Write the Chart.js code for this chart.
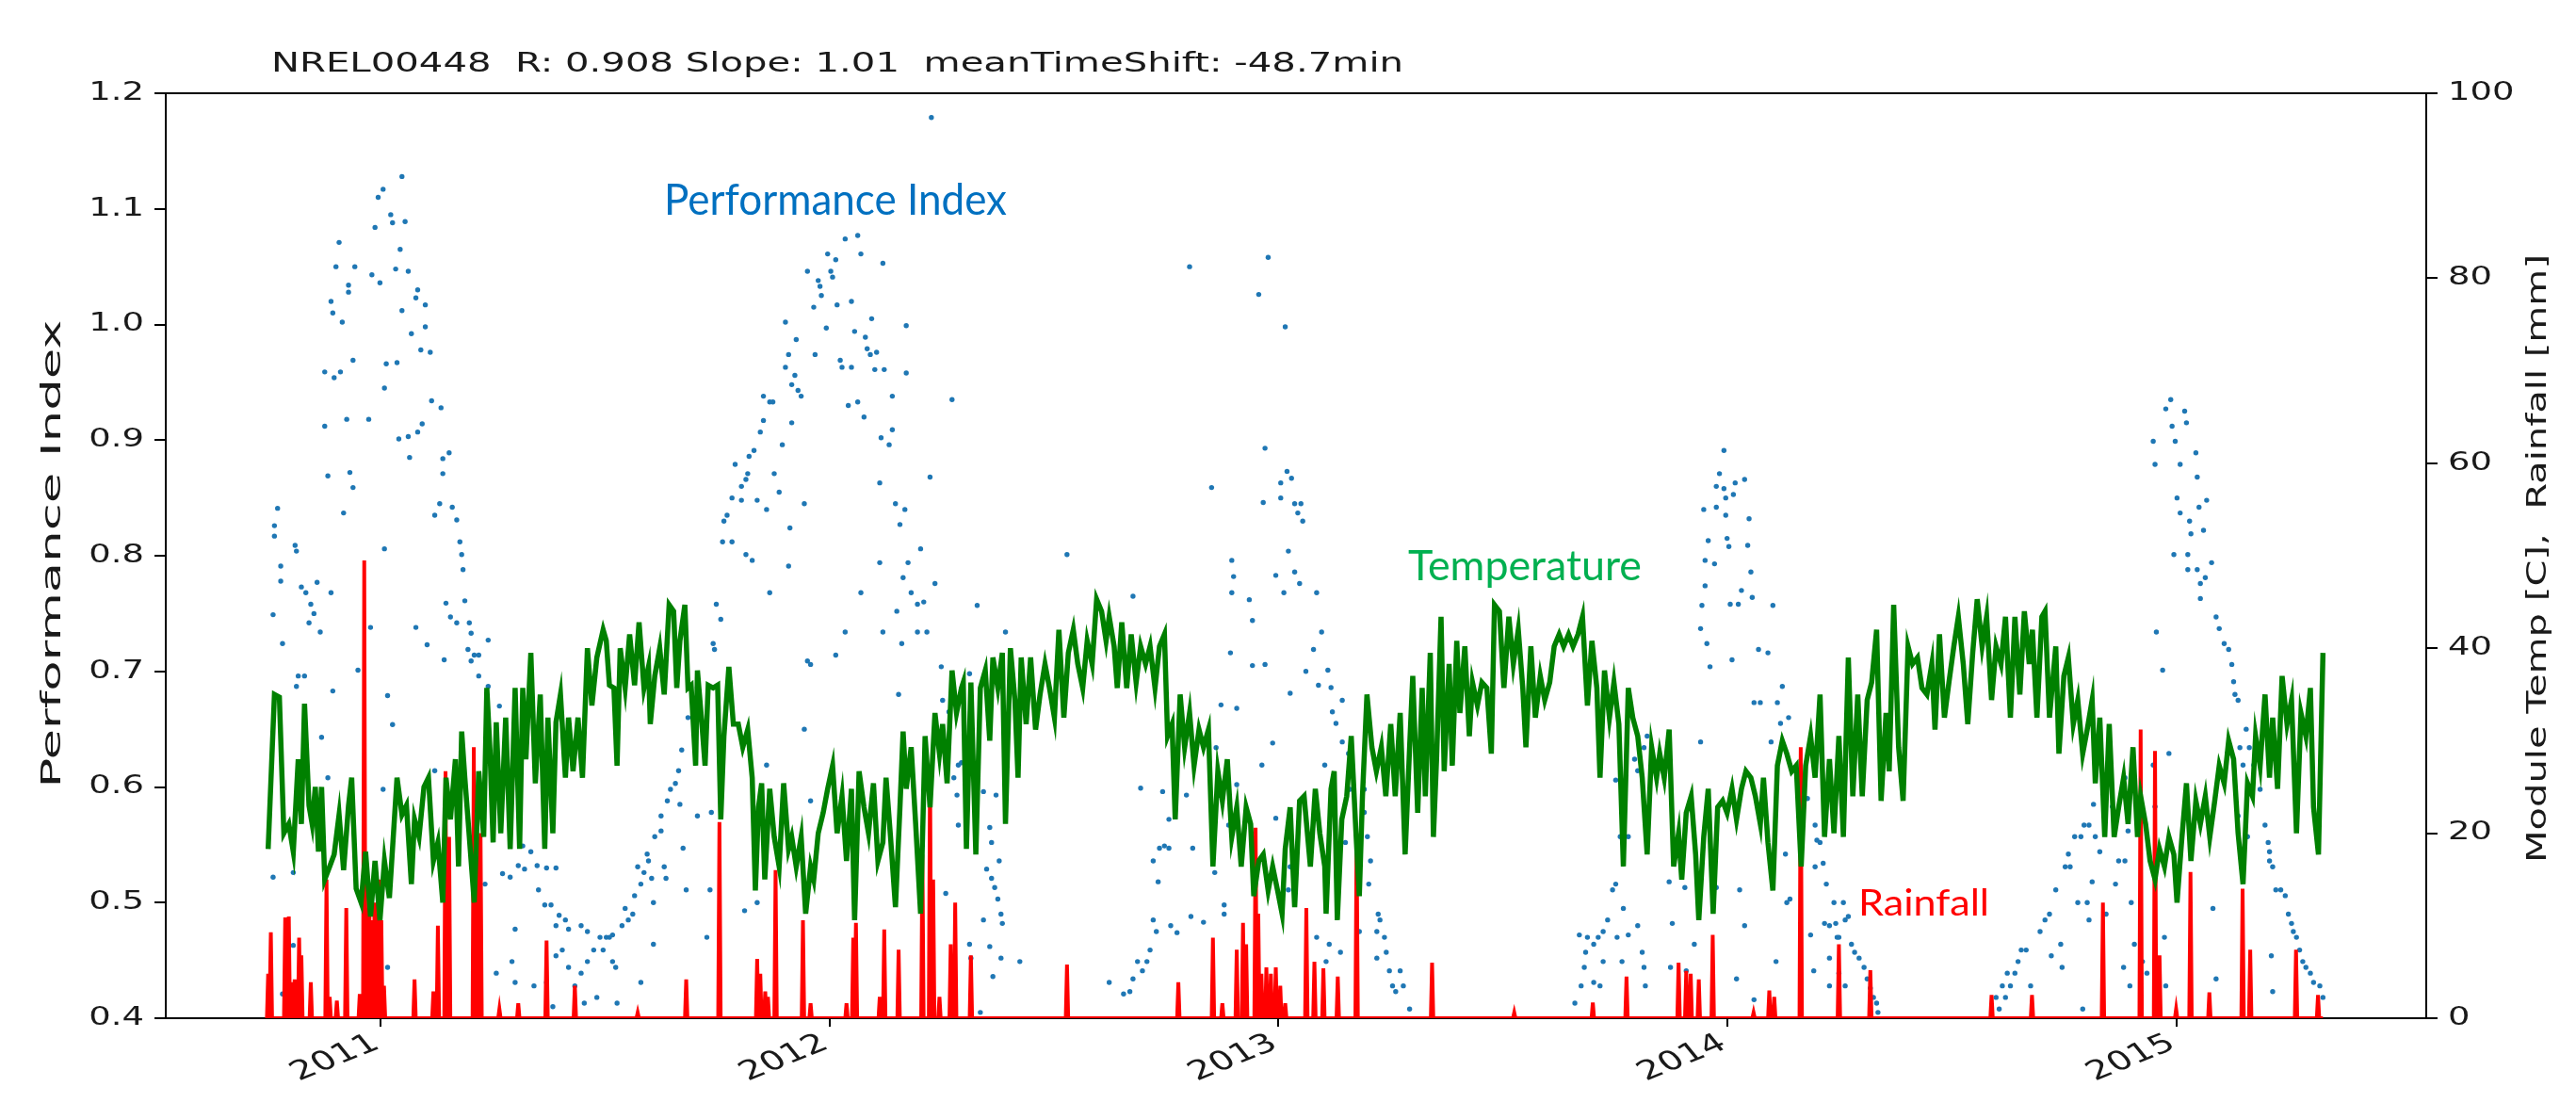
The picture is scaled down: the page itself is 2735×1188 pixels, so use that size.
<!DOCTYPE html>
<html>
<head>
<meta charset="utf-8">
<script src="https://cdn.jsdelivr.net/npm/chart.js@4.4.1/dist/chart.umd.min.js"></script>
<style>
  html, body { margin: 0; padding: 0; background: #fff; }
  #wrap { width: 2735px; height: 1188px; }
</style>
</head>
<body>
<div id="wrap"><canvas id="chart" width="2735" height="1188"></canvas></div>
<script>
// x in decimal years
const yearTicks = [2011, 2012, 2013, 2014, 2015];
const yearTickLabels = ['2011', '2012', '2013', '2014', '2015'];
const piTicks = [0.4, 0.5, 0.6, 0.7, 0.8, 0.9, 1.0, 1.1, 1.2];
const piTickLabels = ['0.4', '0.5', '0.6', '0.7', '0.8', '0.9', '1.0', '1.1', '1.2'];
const tempTicks = [0, 20, 40, 60, 80, 100];
const tempTickLabels = ['0', '20', '40', '60', '80', '100'];

// performance index scatter [year, PI]
const piPoints = [
[2010.764,0.826],[2010.764,0.817],[2010.771,0.841],[2010.778,0.791],[2010.778,0.778],[2010.761,0.749],[2010.782,0.724],[2010.810,0.809],[2010.813,0.804],[2010.824,0.773],
[2010.834,0.768],[2010.845,0.758],[2010.859,0.777],[2010.841,0.742],[2010.852,0.750],[2010.866,0.734],[2010.817,0.696],[2010.831,0.696],[2010.813,0.687],[2010.761,0.522],
[2010.806,0.526],[2010.890,0.768],[2010.894,0.683],[2010.869,0.643],[2010.883,0.608],[2010.908,1.071],[2010.901,1.050],[2010.890,1.020],[2010.894,1.010],[2010.915,1.002],
[2010.876,0.959],[2010.897,0.954],[2010.911,0.959],[2010.939,0.969],[2010.929,1.034],[2010.929,1.028],[2010.943,1.050],[2010.981,1.043],[2010.999,1.036],[2010.988,1.084],
[2011.006,1.117],[2010.995,1.110],[2011.023,1.095],[2011.027,1.088],[2011.048,1.128],[2011.055,1.089],[2011.044,1.065],[2011.048,1.012],[2011.034,1.048],[2011.062,1.046],
[2011.083,1.030],[2011.079,1.023],[2011.100,1.017],[2011.069,0.992],[2011.090,0.978],[2011.100,0.998],[2011.111,0.976],[2011.013,0.966],[2011.037,0.967],[2011.009,0.945],
[2010.876,0.912],[2010.925,0.918],[2010.974,0.918],[2010.883,0.869],[2010.932,0.872],[2010.939,0.859],[2010.918,0.837],[2011.041,0.901],[2011.062,0.903],[2011.083,0.907],
[2011.093,0.914],[2011.065,0.885],[2011.114,0.934],[2011.135,0.928],[2011.153,0.889],[2011.139,0.884],[2011.139,0.871],[2011.121,0.835],[2011.132,0.845],[2011.160,0.842],
[2011.170,0.831],[2011.177,0.812],[2011.181,0.801],[2011.184,0.788],[2011.009,0.806],[2010.978,0.738],[2011.079,0.738],[2011.104,0.723],[2011.146,0.759],[2011.156,0.747],
[2011.170,0.742],[2011.188,0.761],[2011.198,0.742],[2011.202,0.733],[2011.195,0.719],[2011.209,0.714],[2011.219,0.714],[2011.240,0.727],[2011.142,0.710],[2011.202,0.709],
[2011.219,0.696],[2011.240,0.687],[2011.265,0.670],[2010.950,0.701],[2011.016,0.679],[2011.027,0.654],[2011.006,0.598],[2011.121,0.614],[2011.317,0.549],[2011.335,0.544],
[2011.307,0.532],[2011.321,0.529],[2011.349,0.532],[2011.370,0.530],[2011.391,0.530],[2011.272,0.525],[2011.289,0.522],[2011.233,0.516],[2011.352,0.511],[2011.366,0.498],
[2011.380,0.498],[2011.398,0.489],[2011.391,0.480],[2011.412,0.485],[2011.419,0.477],[2011.447,0.480],[2011.461,0.475],[2011.489,0.470],[2011.475,0.459],[2011.503,0.470],
[2011.517,0.472],[2011.461,0.449],[2011.447,0.439],[2011.405,0.459],[2011.391,0.454],[2011.300,0.477],[2011.293,0.449],[2011.258,0.439],[2011.300,0.431],[2011.342,0.428],
[2011.370,0.431],[2011.419,0.444],[2011.433,0.428],[2011.454,0.413],[2011.482,0.418],[2011.384,0.410],[2011.016,0.444],[2010.782,0.421],[2010.806,0.463],
[2011.496,0.459],[2011.510,0.470],[2011.524,0.444],[2011.527,0.413],[2011.517,0.449],[2011.538,0.480],[2011.552,0.485],[2011.545,0.495],[2011.562,0.490],[2011.566,0.506],
[2011.580,0.516],[2011.573,0.531],[2011.587,0.526],[2011.597,0.536],[2011.604,0.521],[2011.608,0.500],[2011.608,0.464],[2011.580,0.431],[2011.594,0.542],[2011.611,0.557],
[2011.625,0.562],[2011.632,0.531],[2011.636,0.521],[2011.625,0.575],[2011.639,0.588],[2011.646,0.598],[2011.657,0.603],[2011.664,0.614],[2011.671,0.632],[2011.667,0.585],
[2011.674,0.547],[2011.685,0.660],[2011.706,0.575],[2011.681,0.511],[2011.706,0.686],[2011.727,0.470],[2011.737,0.578],[2011.734,0.511],[2011.741,0.724],[2011.744,0.719],
[2011.748,0.758],[2011.758,0.745],[2011.762,0.812],[2011.765,0.830],[2011.772,0.835],[2011.783,0.812],[2011.783,0.850],[2011.790,0.879],[2011.804,0.860],[2011.804,0.848],
[2011.814,0.866],[2011.818,0.871],[2011.821,0.886],[2011.832,0.891],[2011.839,0.848],[2011.846,0.907],[2011.853,0.917],[2011.853,0.938],[2011.860,0.840],[2011.867,0.933],
[2011.874,0.933],[2011.877,0.871],[2011.888,0.855],[2011.895,0.896],[2011.902,0.963],[2011.902,1.002],[2011.909,0.974],[2011.916,0.915],[2011.916,0.948],[2011.923,0.956],
[2011.926,0.987],[2011.930,0.943],[2011.937,0.938],[2011.944,0.845],[2011.951,1.046],[2011.958,0.706],[2011.965,1.015],[2011.968,0.974],[2011.975,1.038],[2011.979,1.033],
[2011.982,1.025],[2011.993,0.997],[2011.996,1.061],[2012.003,1.046],[2012.007,1.041],[2012.014,1.056],[2012.017,1.017],[2012.024,0.969],[2012.028,0.963],[2012.035,1.074],
[2012.042,0.930],[2012.049,1.020],[2012.049,0.963],[2012.056,0.994],[2012.063,0.933],[2012.063,1.077],[2012.070,1.061],[2012.077,0.920],[2012.080,0.989],[2012.084,0.979],
[2012.091,0.974],[2012.094,1.005],[2012.101,0.961],[2012.105,0.976],[2012.112,0.863],[2012.115,0.902],[2012.119,1.053],[2012.122,0.961],[2012.112,0.794],[2012.119,0.734],
[2012.133,0.896],[2012.140,0.909],[2012.147,0.845],[2012.150,0.752],[2012.154,0.680],[2012.157,0.827],[2012.161,0.724],[2012.164,0.781],[2012.168,0.840],[2012.171,0.999],
[2012.171,0.958],[2012.175,0.794],[2012.182,0.768],[2012.196,0.758],[2012.196,0.734],[2012.203,0.806],[2012.210,0.760],[2012.217,0.734],[2012.224,0.868],[2012.235,0.776],
[2012.249,0.704],[2012.252,0.675],[2012.273,0.935],[2012.140,0.938],[2012.070,0.768],[2012.035,0.734],[2012.014,0.714],[2011.951,0.709],[2011.944,0.650],[2011.909,0.791],
[2011.912,0.824],[2011.867,0.768],[2011.828,0.796],[2011.814,0.801],[2011.811,0.493],[2011.839,0.500],[2011.860,0.619],[2011.958,0.588],[2012.266,0.665],[2012.287,0.619],
[2012.259,0.508],[2012.227,1.179],
[2012.329,0.757],[2012.392,0.734],[2012.529,0.801],[2012.676,0.765],[2012.802,1.050],[2012.956,1.026],[2012.977,1.058],[2013.015,0.998],[2012.970,0.893],[2012.851,0.859],
[2013.005,0.863],[2013.019,0.873],[2013.029,0.867],[2012.966,0.846],[2013.005,0.850],[2013.036,0.845],[2013.050,0.845],[2013.054,0.830],[2013.043,0.837],[2013.022,0.804],
[2013.036,0.786],[2012.994,0.783],[2013.012,0.768],[2013.047,0.776],[2012.896,0.796],[2012.900,0.782],[2012.896,0.768],[2012.935,0.762],[2012.942,0.744],[2012.893,0.716],
[2012.942,0.705],[2012.970,0.706],[2013.026,0.681],[2013.061,0.700],[2012.987,0.638],[2012.994,0.573],[2012.963,0.619],[2012.872,0.671],[2012.907,0.668],[2012.861,0.634],
[2012.858,0.526],[2012.879,0.498],[2012.879,0.490],[2012.833,0.483],[2012.805,0.488],[2012.774,0.474],[2012.760,0.480],[2012.721,0.485],[2012.728,0.475],[2012.714,0.459],
[2012.707,0.449],[2012.697,0.441],[2012.686,0.449],[2012.676,0.434],[2012.669,0.423],[2012.655,0.421],[2012.623,0.431],[2012.721,0.536],[2012.732,0.518],[2012.735,0.547],
[2012.746,0.549],[2012.756,0.547],[2012.756,0.572],[2012.742,0.596],[2012.693,0.599],[2012.795,0.593],[2012.809,0.547],[2012.343,0.485],[2012.350,0.529],[2012.361,0.521],
[2012.368,0.513],[2012.375,0.503],[2012.382,0.490],[2012.385,0.482],[2012.357,0.565],[2012.361,0.552],[2012.371,0.593],[2012.343,0.596],[2012.378,0.536],[2012.382,0.452],
[2012.357,0.462],[2012.364,0.436],[2012.424,0.449],[2012.312,0.464],[2012.315,0.452],[2012.336,0.405],[2012.287,0.567],[2012.312,0.698],[2012.294,0.621],[2012.277,0.608],
[2012.284,0.593],[2012.889,0.567],[2012.907,0.602],[2013.022,0.511],[2013.026,0.531],
[2013.085,0.768],[2013.078,0.719],[2013.096,0.734],[2013.089,0.688],[2013.110,0.701],[2013.117,0.686],[2013.120,0.665],[2013.128,0.655],[2013.142,0.675],[2013.142,0.639],
[2013.156,0.629],[2013.159,0.598],[2013.103,0.619],[2013.149,0.552],[2013.191,0.598],[2013.191,0.578],[2013.198,0.557],[2013.205,0.536],[2013.201,0.516],[2013.222,0.490],
[2013.219,0.475],[2013.226,0.485],[2013.236,0.470],[2013.240,0.457],[2013.219,0.452],[2013.247,0.441],[2013.254,0.428],[2013.261,0.423],[2013.271,0.441],[2013.278,0.428],
[2013.085,0.470],[2013.106,0.449],[2013.113,0.464],[2013.138,0.457],[2013.180,0.475],[2013.292,0.408],[2013.660,0.413],[2013.674,0.428],[2013.681,0.444],[2013.684,0.457],
[2013.670,0.472],[2013.688,0.470],[2013.702,0.464],[2013.712,0.470],[2013.723,0.475],[2013.733,0.485],[2013.744,0.511],[2013.751,0.516],[2013.768,0.495],[2013.754,0.470],
[2013.765,0.449],[2013.702,0.431],[2013.716,0.428],[2013.723,0.449],[2013.779,0.472],[2013.800,0.480],[2013.810,0.457],[2013.814,0.444],[2013.817,0.428],[2013.761,0.557],
[2013.779,0.557],[2013.793,0.624],[2013.800,0.614],[2013.814,0.634],[2013.821,0.644],[2013.751,0.606],
[2013.992,0.891],[2013.982,0.871],[2013.975,0.860],[2013.992,0.858],[2013.996,0.850],[2014.017,0.863],[2014.038,0.866],[2014.013,0.853],[2013.947,0.840],[2013.975,0.842],
[2013.996,0.835],[2014.048,0.832],[2013.957,0.813],[2013.999,0.815],[2014.003,0.808],[2014.045,0.809],[2013.950,0.796],[2013.971,0.793],[2014.052,0.786],[2013.950,0.774],
[2014.031,0.770],[2014.006,0.758],[2014.024,0.758],[2014.055,0.764],[2014.101,0.757],[2013.943,0.757],[2013.940,0.737],[2013.954,0.724],[2013.961,0.704],[2014.010,0.710],
[2014.069,0.719],[2014.090,0.716],[2014.122,0.687],[2014.059,0.673],[2014.073,0.673],[2014.111,0.673],[2014.136,0.660],[2014.118,0.655],[2014.097,0.639],[2013.940,0.639],
[2013.870,0.518],[2013.905,0.513],[2013.926,0.464],[2013.877,0.482],[2013.873,0.444],[2013.908,0.441],[2013.975,0.513],[2014.027,0.511],[2014.038,0.480],[2014.020,0.434],
[2014.059,0.416],[2014.108,0.449],[2014.129,0.542],[2014.132,0.500],[2014.139,0.503],[2014.185,0.472],[2014.171,0.603],[2014.178,0.590],[2014.195,0.567],[2014.199,0.554],
[2014.206,0.552],[2014.213,0.534],[2014.220,0.516],[2014.195,0.531],[2014.192,0.441],[2014.216,0.482],[2014.227,0.480],[2014.227,0.452],[2014.227,0.428],[2014.237,0.500],
[2014.241,0.482],[2014.244,0.470],[2014.248,0.470],[2014.258,0.500],[2014.262,0.485],[2014.269,0.488],[2014.276,0.464],[2014.283,0.457],[2014.293,0.452],[2014.304,0.444],
[2014.311,0.434],[2014.318,0.426],[2014.325,0.418],[2014.332,0.413],[2014.335,0.405],[2014.248,0.439],[2014.262,0.428],[2014.598,0.418],[2014.612,0.428],[2014.623,0.439],
[2014.605,0.408],[2014.619,0.418],[2014.630,0.428],[2014.640,0.439],[2014.647,0.449],[2014.654,0.459],[2014.665,0.459],[2014.675,0.428],[2014.696,0.475],[2014.707,0.485],
[2014.717,0.490],[2014.721,0.454],[2014.731,0.511],[2014.742,0.464],[2014.745,0.444],[2014.752,0.531],[2014.759,0.542],[2014.763,0.531],[2014.773,0.557],[2014.787,0.557],
[2014.791,0.408],[2014.794,0.567],[2014.805,0.567],[2014.812,0.518],[2014.815,0.585],[2014.819,0.557],[2014.829,0.544],[2014.805,0.485],[2014.780,0.500],[2014.801,0.500],
[2014.843,0.490],[2014.864,0.516],[2014.857,0.583],[2014.871,0.536],[2014.885,0.536],[2014.885,0.608],[2014.899,0.500],[2014.892,0.562],[2014.882,0.444],[2014.896,0.428],
[2014.906,0.464],[2014.924,0.449],[2014.934,0.439],[2014.948,0.619],[2014.952,0.583],[2014.973,0.470],[2014.976,0.428],[2014.983,0.629],[2014.948,0.899],[2014.952,0.879],
[2014.955,0.734],[2014.969,0.701],[2014.976,0.927],[2014.987,0.935],[2014.990,0.912],[2014.997,0.899],[2015.008,0.879],[2015.018,0.925],[2015.022,0.915],[2015.043,0.889],
[2015.046,0.868],[2015.001,0.850],[2015.008,0.837],[2015.029,0.830],[2015.050,0.842],[2015.067,0.848],[2015.032,0.819],[2015.060,0.822],[2014.994,0.801],[2015.025,0.801],
[2015.025,0.788],[2015.046,0.788],[2015.053,0.776],[2015.053,0.763],[2015.064,0.781],[2015.078,0.794],[2015.088,0.747],[2015.095,0.737],[2015.106,0.724],[2015.116,0.719],
[2015.123,0.706],[2015.127,0.691],[2015.130,0.680],[2015.137,0.675],[2015.155,0.650],[2015.162,0.634],[2015.172,0.619],[2015.186,0.598],[2015.197,0.567],[2015.204,0.552],
[2015.207,0.536],[2015.214,0.531],[2015.221,0.511],[2015.232,0.511],[2015.242,0.506],[2015.249,0.490],[2015.256,0.482],[2015.260,0.475],[2015.267,0.470],[2015.274,0.459],
[2015.281,0.449],[2015.288,0.444],[2015.298,0.439],[2015.305,0.431],[2015.319,0.428],[2015.326,0.418],[2015.211,0.454],[2015.214,0.423],[2015.207,0.544],[2015.148,0.619],
[2015.158,0.557],[2015.137,0.575],[2015.081,0.495],[2015.088,0.434],[2015.113,0.629],[2015.141,0.634]
];

// module temperature [year, degC]
const tempPoints = [
[2010.750,18.3],[2010.764,35],[2010.775,34.7],[2010.785,20],[2010.796,21],[2010.806,18],[2010.817,28],[2010.824,21],[2010.831,34],[2010.841,23],
[2010.848,21],[2010.855,25],[2010.862,18],[2010.869,25],[2010.876,15],[2010.887,16.4],[2010.897,17.7],[2010.908,22],[2010.918,16],[2010.929,23],
[2010.936,26],[2010.946,14],[2010.957,12.5],[2010.967,18],[2010.978,11],[2010.988,17],[2010.999,10.6],[2011.009,17],[2011.020,13],[2011.037,26],
[2011.048,22],[2011.058,23],[2011.069,14.5],[2011.076,21.5],[2011.086,19.6],[2011.097,25],[2011.107,26],[2011.118,17],[2011.128,19],[2011.139,12.5],
[2011.146,26],[2011.156,21.5],[2011.167,28],[2011.174,16.4],[2011.181,31],[2011.188,26],[2011.198,19.6],[2011.209,12.5],[2011.219,26.7],[2011.230,19.6],
[2011.237,35.7],[2011.244,29],[2011.251,19],[2011.258,32],[2011.268,20],[2011.279,32.5],[2011.289,18.3],[2011.300,35.7],[2011.310,18.3],[2011.317,35.7],
[2011.324,28],[2011.335,39.5],[2011.345,25.4],[2011.356,35],[2011.366,18.3],[2011.373,32.5],[2011.384,20],[2011.391,32],[2011.401,35],[2011.412,26],
[2011.419,32.5],[2011.429,26.7],[2011.440,32.5],[2011.450,26],[2011.461,40],[2011.471,33.8],[2011.482,39],
[2011.496,42],[2011.503,40.8],[2011.510,36],[2011.520,35.7],[2011.527,27.3],[2011.534,40],[2011.545,35.7],[2011.555,41.5],[2011.566,36],[2011.576,42.8],
[2011.587,35.7],[2011.597,38],[2011.601,31.8],[2011.611,37],[2011.622,40],[2011.632,35],[2011.643,44.7],[2011.653,44],[2011.660,35.7],[2011.667,40.8],
[2011.678,44.7],[2011.685,35.7],[2011.692,36],[2011.702,27.3],[2011.706,37.6],[2011.716,31.8],[2011.723,27.3],[2011.730,36],[2011.741,35.7],[2011.751,36],
[2011.758,21.5],[2011.765,30.5],[2011.776,38],[2011.786,31.8],[2011.797,31.8],[2011.807,29.3],[2011.818,31.2],[2011.828,26],[2011.835,13.8],[2011.842,22.8],
[2011.849,25.4],[2011.856,15],[2011.867,24.8],[2011.877,19.6],[2011.888,16.4],[2011.898,25.4],[2011.909,18.3],[2011.916,19.6],[2011.926,16.4],[2011.937,19.6],
[2011.947,11.3],[2011.958,16.4],[2011.965,15],[2011.975,20],[2011.986,22.2],[2011.996,24.8],[2012.007,27.3],[2012.017,20],[2012.028,24],[2012.038,17],
[2012.049,24.8],[2012.056,10.6],[2012.066,26.7],[2012.077,22.8],[2012.087,20],[2012.098,25.4],[2012.108,17],[2012.119,19],[2012.126,26],[2012.136,19.6],
[2012.147,12],[2012.157,22.8],[2012.164,31],[2012.171,24.8],[2012.182,29.3],[2012.192,21],[2012.203,11.3],[2012.213,30.5],[2012.224,22.8],[2012.235,33],
[2012.245,28.6],[2012.252,31.8],[2012.262,25.4],[2012.273,37.6],[2012.283,33],[2012.294,35.7],
[2012.298,36.3],[2012.305,18.3],[2012.315,36.3],[2012.326,17.7],[2012.336,35.7],[2012.347,37.6],[2012.357,30],[2012.364,39],[2012.375,35.7],[2012.385,39.5],
[2012.392,21],[2012.403,40],[2012.413,34.4],[2012.420,26],[2012.427,39],[2012.438,31.8],[2012.448,39],[2012.459,31.2],[2012.469,35],[2012.480,38.3],
[2012.490,35.7],[2012.501,32.5],[2012.511,42],[2012.522,32.5],[2012.532,39.5],[2012.543,42],[2012.553,38.3],[2012.564,35.7],[2012.574,40.8],[2012.585,38.3],
[2012.595,45.3],[2012.606,44],[2012.616,40.8],[2012.623,43.4],[2012.634,40.2],[2012.641,35.7],[2012.651,42.8],[2012.662,35.7],[2012.672,41.5],[2012.683,36.3],
[2012.693,40.2],[2012.704,38.3],[2012.714,40.2],[2012.725,35.7],[2012.735,40.2],[2012.746,41.5],[2012.753,30.5],[2012.763,31.8],[2012.770,21.5],[2012.781,35],
[2012.791,29.3],[2012.802,33],[2012.812,27.3],[2012.823,31.2],[2012.833,29.3],[2012.844,31.2],[2012.854,16.4],[2012.865,26.7],[2012.875,23.5],[2012.886,28],
[2012.896,19.6],[2012.907,22.8],[2012.917,16.4],[2012.928,22.8],[2012.938,21],[2012.945,13.2],[2012.956,17],[2012.966,17.7],[2012.977,13.8],[2012.987,16.4],
[2012.998,13.8],[2013.008,11.3],[2013.015,18.3],[2013.026,22.8],[2013.036,12],[2013.047,23.5],[2013.057,24],
[2013.071,16.4],[2013.082,24.8],[2013.092,20],[2013.103,16.4],[2013.106,11.3],[2013.117,24.8],[2013.124,26.7],[2013.131,10.6],[2013.141,21.5],[2013.152,24],
[2013.162,30.5],[2013.173,19.6],[2013.180,13.2],[2013.187,24],[2013.197,35],[2013.208,29.3],[2013.218,26.7],[2013.229,29.3],[2013.239,24],[2013.250,31.8],
[2013.260,24],[2013.271,33],[2013.282,17.7],[2013.292,29.3],[2013.299,37],[2013.310,22.2],[2013.320,35.7],[2013.327,24],[2013.338,39.5],[2013.345,19.6],
[2013.352,28],[2013.362,43.4],[2013.369,26.7],[2013.380,38.3],[2013.387,27.3],[2013.397,40.8],[2013.404,33],[2013.415,40.2],[2013.425,30.5],[2013.432,36.3],
[2013.443,33.8],[2013.453,36.3],[2013.464,35.7],[2013.474,28.6],[2013.481,44.7],[2013.492,44],[2013.502,35.7],[2013.513,43.4],[2013.523,38.3],[2013.534,42],
[2013.544,35.7],[2013.551,29.3],[2013.562,40.2],[2013.572,32.5],[2013.583,37],[2013.593,34.4],[2013.604,36.3],[2013.614,40.2],[2013.625,41.5],[2013.635,40.2],
[2013.646,41.5],[2013.656,40.2],[2013.667,41.5],[2013.677,43.4],[2013.688,33.8],[2013.698,40.8],[2013.709,35.7],[2013.716,26],[2013.726,37.6],[2013.737,32.5],
[2013.747,36.3],[2013.758,31.8],[2013.768,16.4],[2013.779,35.7],[2013.789,32.5],[2013.800,30.5],[2013.810,26],[2013.821,17.7],[2013.831,29.3],[2013.842,26],
[2013.849,28.6],[2013.859,26],[2013.870,31.2],[2013.880,16.4],[2013.891,20],[2013.898,15],[2013.908,22.2],[2013.919,24],[2013.929,17.7],[2013.936,10.6],
[2013.947,19.6],[2013.957,24.8],[2013.968,11.3],[2013.978,22.8],[2013.989,23.5],[2013.999,22.2],[2014.010,24.8],[2014.020,21.5],[2014.031,24.8],[2014.041,26.7],
[2014.052,26],[2014.062,24],[2014.073,21],[2014.080,26],[2014.090,19],[2014.101,13.8],[2014.111,27.3],[2014.122,30],[2014.132,28.6],[2014.143,26.7],
[2014.153,27.3],[2014.164,16.4],[2014.174,27.3],[2014.185,30.5],[2014.195,26],[2014.206,35],[2014.216,19.6],[2014.227,28],[2014.237,20],[2014.248,30.5],
[2014.258,19.6],[2014.269,39],[2014.279,24],[2014.290,35],[2014.300,24],[2014.311,34.4],[2014.321,36.3],[2014.332,42],[2014.342,23.5],[2014.353,33],
[2014.360,26.7],[2014.370,44.7],[2014.381,29.3],[2014.391,23.5],[2014.402,40.2],[2014.412,38.3],[2014.423,39],[2014.433,35.7],[2014.444,35],[2014.455,38.3],
[2014.462,31.2],[2014.472,41.5],[2014.483,32.5],[2014.493,36.3],[2014.504,40.2],[2014.514,43.4],[2014.525,38.3],[2014.535,31.8],[2014.546,39.5],[2014.556,45.3],
[2014.567,40.2],[2014.577,43.4],[2014.588,34.4],[2014.598,40.2],[2014.609,38.3],[2014.619,43.4],
[2014.630,32.5],[2014.640,43.4],[2014.651,35],[2014.661,44],[2014.672,38.3],[2014.679,42],[2014.689,32.5],[2014.700,43.4],[2014.707,44],[2014.717,32.5],
[2014.731,40.2],[2014.738,28.6],[2014.749,37],[2014.759,39],[2014.770,31.8],[2014.780,34.4],[2014.791,28.6],[2014.801,31.2],[2014.812,34.4],[2014.819,25.4],
[2014.829,32.5],[2014.840,19.6],[2014.850,31.8],[2014.861,19.6],[2014.871,22.8],[2014.882,26],[2014.892,21],[2014.903,29.3],[2014.913,19.6],[2014.920,24],
[2014.931,21],[2014.941,17],[2014.952,15],[2014.962,18.3],[2014.973,16.4],[2014.983,19.6],[2014.994,17.7],[2015.001,12.5],[2015.011,19],[2015.022,25.4],
[2015.032,17],[2015.043,23.5],[2015.053,21],[2015.064,24],[2015.074,19.6],[2015.085,23.5],[2015.095,27.3],[2015.106,25.4],[2015.116,30],[2015.127,28],
[2015.137,20],[2015.148,14.5],[2015.158,25.4],[2015.169,24],[2015.176,30.5],[2015.186,27.3],[2015.197,35],[2015.207,26],[2015.214,32.5],[2015.225,24.8],
[2015.235,37],[2015.246,31.8],[2015.256,34.4],[2015.267,20],[2015.277,33],[2015.288,30.5],[2015.298,35.7],[2015.305,22.8],[2015.316,17.7],[2015.326,39.5]
];

// daily rainfall events [year, mm]; all other days are 0
const rainEvents = [
[2010.750,4.8],[2010.756,9.3],[2010.788,10.9],[2010.796,11],[2010.803,3.9],[2010.809,4.2],[2010.819,8.7],[2010.824,6.8],[2010.845,3.9],[2010.880,15],
[2010.887,2.3],[2010.903,1.9],[2010.924,11.9],[2010.954,2.6],[2010.964,49.5],[2010.975,14.5],[2010.981,10.6],[2010.987,12.5],[2010.996,15],[2011.002,10.6],
[2011.008,3.5],[2011.076,4.2],[2011.118,2.9],[2011.128,10],[2011.145,26.7],[2011.153,19.6],[2011.208,29.3],[2011.216,19.6],[2011.223,20],[2011.265,1],
[2011.307,1.6],[2011.370,8.4],[2011.433,3.5],[2011.573,0.6],[2011.681,4.2],[2011.755,21.2],[2011.839,6.4],[2011.846,4.8],[2011.857,2.9],[2011.863,2.3],
[2011.880,16],[2011.941,10.6],[2011.958,1.6],[2012.038,1.6],[2012.053,8.7],[2012.059,10.3],[2012.112,2.3],[2012.122,9.6],[2012.154,7.4],[2012.207,17.7],
[2012.224,27.3],[2012.231,15],[2012.245,2.3],[2012.270,8],[2012.280,12.5],[2012.315,6.8],[2012.529,5.8],[2012.777,3.9],[2012.854,8.7],[2012.875,1.6],
[2012.907,7.4],[2012.921,10.3],[2012.928,8],[2012.949,20.6],[2012.955,11.3],[2012.962,4.8],[2012.973,5.5],[2012.983,4.8],[2012.994,5.5],[2013.004,3.5],
[2013.015,1.6],[2013.062,11.9],[2013.080,6.1],[2013.100,5.4],[2013.132,4.5],[2013.174,20],[2013.342,6],[2013.525,0.6],[2013.700,1.7],[2013.775,4.5],
[2013.891,6],[2013.908,5.1],[2013.918,4.8],[2013.936,4.2],[2013.967,9],[2014.058,0.6],[2014.093,3],[2014.104,2.3],[2014.163,29.3],[2014.248,8],
[2014.318,5.2],[2014.588,2.5],[2014.678,2.5],[2014.836,12.5],[2014.920,31.2],[2014.952,28.9],[2014.962,6.8],[2014.999,1],[2015.031,15.8],[2015.073,2.8],
[2015.147,14],[2015.164,7.4],[2015.266,7.4],[2015.315,2.5]
];

const titleText = 'NREL00448  R: 0.908 Slope: 1.01  meanTimeShift: -48.7min';

// one day either side of each rain day back to zero
const DAY = 1 / 365.25;
const rainLine = [];
rainEvents.forEach(([d, mm]) => {
  rainLine.push({ x: d - DAY, y: 0 }, { x: d, y: mm }, { x: d + DAY, y: 0 });
});
rainLine.push({ x: tempPoints[tempPoints.length - 1][0], y: 0 });

const SX = 1.42; // the source figure is stretched sideways

function stretched(ctx, text, x, y, font, align, baseline, angle) {
  ctx.save();
  ctx.translate(x, y);
  ctx.scale(SX, 1);
  if (angle) ctx.rotate(angle);
  ctx.font = font;
  ctx.fillStyle = '#1a1a1a';
  ctx.textAlign = align;
  ctx.textBaseline = baseline;
  ctx.fillText(text, 0, 0);
  ctx.restore();
}

function fitted(ctx, text, x, y, font, width, color, vertical) {
  ctx.save();
  ctx.font = font;
  const w = ctx.measureText(text).width;
  ctx.translate(x, y);
  if (vertical) ctx.rotate(-Math.PI / 2);
  ctx.scale(width / w, 1);
  ctx.fillStyle = color;
  ctx.textAlign = vertical ? 'center' : 'left';
  ctx.textBaseline = vertical ? 'middle' : 'alphabetic';
  ctx.fillText(text, 0, 0);
  ctx.restore();
}

const figureText = {
  id: 'figureText',
  afterDraw(chart) {
    const ctx = chart.ctx;
    const { left, right, top } = chart.chartArea;
    ctx.save();
    ctx.strokeStyle = '#000';
    ctx.lineWidth = 2;
    ctx.beginPath();
    ctx.moveTo(left, top);
    ctx.lineTo(right, top);
    ctx.stroke();
    ctx.restore();

    const tickFont = '26px "DejaVu Sans"';
    const y = chart.scales.y, y2 = chart.scales.y2, x = chart.scales.x;
    piTicks.forEach((v, i) => stretched(ctx, piTickLabels[i], left - 23, y.getPixelForValue(v), tickFont, 'right', 'middle', 0));
    tempTicks.forEach((v, i) => stretched(ctx, tempTickLabels[i], right + 23, y2.getPixelForValue(v), tickFont, 'left', 'middle', 0));
    yearTicks.forEach((v, i) => stretched(ctx, yearTickLabels[i], x.getPixelForValue(v) + 1, 1112, '28px "DejaVu Sans"', 'right', 'alphabetic', -Math.PI / 6));

    fitted(ctx, titleText, 288, 76, '28px "DejaVu Sans"', 1202, '#1a1a1a', false);
    fitted(ctx, 'Performance Index', 57, 588, '28px "DejaVu Sans"', 497, '#1a1a1a', true);
    fitted(ctx, 'Module Temp [C],  Rainfall [mm]', 2695, 593, '29px "DejaVu Sans"', 646, '#1a1a1a', true);

    fitted(ctx, 'Performance Index', 705, 228, '47px Lato', 364, '#0070C0', false);
    fitted(ctx, 'Temperature', 1495, 616, '44px Lato', 248, '#00B050', false);
    fitted(ctx, 'Rainfall', 1973, 972, '39px Lato', 139, '#FF0000', false);
  }
};

const tickGrid = (len) => ({ display: true, drawOnChartArea: false, drawTicks: true, tickLength: len, color: '#000', lineWidth: 2 });

new Chart(document.getElementById('chart'), {
  type: 'scatter',
  data: {
    datasets: [
      {
        type: 'line', label: 'Temperature', yAxisID: 'y2', order: 0,
        data: tempPoints.map(([d, t]) => ({ x: d, y: t })),
        borderColor: '#008000', borderWidth: 5.5, pointRadius: 0, tension: 0, fill: false
      },
      {
        type: 'line', label: 'Rainfall', yAxisID: 'y2', order: 1,
        data: rainLine,
        borderColor: '#ff0000', borderWidth: 4, pointRadius: 0, tension: 0, fill: false
      },
      {
        type: 'scatter', label: 'Performance Index', yAxisID: 'y', order: 2,
        data: piPoints.map(([d, p]) => ({ x: d, y: p })),
        backgroundColor: '#1f77b4', borderWidth: 0, pointRadius: 2.7
      }
    ]
  },
  options: {
    responsive: false,
    animation: false,
    devicePixelRatio: 1,
    layout: { padding: { top: 99, left: 0, right: 0, bottom: 0 } },
    plugins: { legend: { display: false }, tooltip: { enabled: false }, title: { display: false } },
    scales: {
      x: {
        type: 'linear', position: 'bottom', min: 2010.522, max: 2015.556,
        afterBuildTicks: (s) => { s.ticks = yearTicks.map((v) => ({ value: v })); },
        afterFit: (s) => { s.height = 107; },
        ticks: { display: false },
        grid: tickGrid(9),
        border: { display: true, color: '#000', width: 2 }
      },
      y: {
        position: 'left', min: 0.4, max: 1.2,
        afterBuildTicks: (s) => { s.ticks = piTicks.map((v) => ({ value: v })); },
        afterFit: (s) => { s.width = 176; },
        ticks: { display: false },
        grid: tickGrid(12),
        border: { display: true, color: '#000', width: 2 }
      },
      y2: {
        position: 'right', min: 0, max: 100,
        afterBuildTicks: (s) => { s.ticks = tempTicks.map((v) => ({ value: v })); },
        afterFit: (s) => { s.width = 159; },
        ticks: { display: false },
        grid: tickGrid(12),
        border: { display: true, color: '#000', width: 2 }
      }
    }
  },
  plugins: [figureText]
});
</script>
</body>
</html>
